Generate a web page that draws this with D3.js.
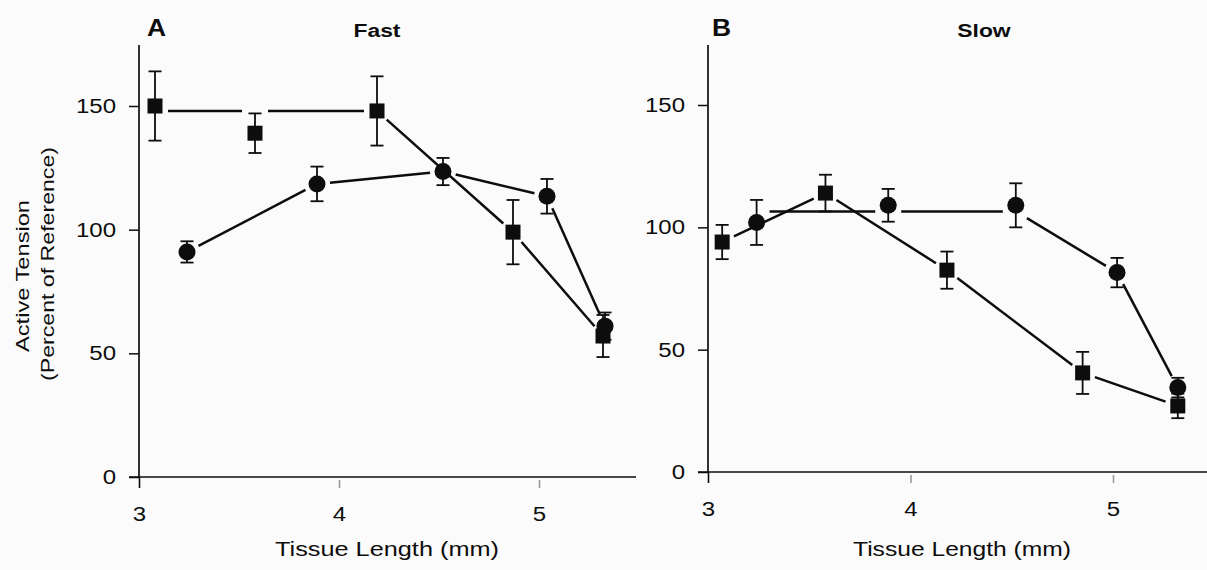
<!DOCTYPE html>
<html>
<head>
<meta charset="utf-8">
<script src="https://cdn.jsdelivr.net/npm/d3@7"></script>
<style>
  html, body { margin: 0; padding: 0; background: #fbfbfb; }
  svg { display: block; font-family: "Liberation Sans", Arial, sans-serif; }
</style>
</head>
<body>
<div id="chart"></div>
<script>
// data
const lengthTicks = [3, 4, 5];
const tensionTicks = [0, 50, 100, 150];

// A - fast
const fastSquareX = [3.08, 3.58, 4.19, 4.87, 5.32];
const fastSquareY = [150, 139, 148, 99, 57];
const fastSquareErr = [14, 8, 14, 13, 8.5];
const fastSquareLineY = [148, 148, 148, 99, 57];
const fastCircleX = [3.24, 3.89, 4.52, 5.04, 5.33];
const fastCircleY = [91, 118.5, 123.5, 113.5, 61];
const fastCircleErr = [4.3, 7, 5.5, 7, 5.5];
const fastCircleLineY = [91, 118.5, 123.5, 113.5, 61];

// B - slow
const slowSquareX = [3.07, 3.58, 4.18, 4.85, 5.32];
const slowSquareY = [94, 114, 82.5, 40.5, 27];
const slowSquareErr = [7, 7.5, 7.6, 8.6, 5];
const slowSquareLineY = [94, 114, 82.5, 40.5, 27];
const slowCircleX = [3.24, 3.89, 4.52, 5.02, 5.32];
const slowCircleY = [102, 109, 109, 81.5, 34.5];
const slowCircleErr = [9.2, 6.7, 9, 6, 4];
const slowCircleLineY = [106.5, 106.5, 106.5, 81.5, 34.5];

(function() {
  'use strict';

  const W = 1207, H = 570;
  const INK = '#0d0d0d';
  const FONT_K = 1.2;   // the scanned lettering is wider than Liberation Sans

  const panels = [
    {
      letter: 'A', title: 'Fast',
      x3: 139, x5: 539, y0: 477, y150: 106, axisTop: 45, axisRight: 636,
      letterX: 147, titleX: 377, xLabelX: 387, xLabelLen: 224,
      series: [
        { shape: 'square', x: fastSquareX, y: fastSquareY, err: fastSquareErr, lineY: fastSquareLineY },
        { shape: 'circle', x: fastCircleX, y: fastCircleY, err: fastCircleErr, lineY: fastCircleLineY }
      ]
    },
    {
      letter: 'B', title: 'Slow',
      x3: 708, x5: 1113, y0: 472, y150: 105, axisTop: 45, axisRight: 1207,
      letterX: 712, titleX: 984, xLabelX: 962, xLabelLen: 218,
      series: [
        { shape: 'square', x: slowSquareX, y: slowSquareY, err: slowSquareErr, lineY: slowSquareLineY },
        { shape: 'circle', x: slowCircleX, y: slowCircleY, err: slowCircleErr, lineY: slowCircleLineY }
      ]
    }
  ];

  const svg = d3.select('#chart').append('svg')
    .attr('width', W).attr('height', H)
    .attr('viewBox', `0 0 ${W} ${H}`);

  svg.append('rect').attr('width', W).attr('height', H).attr('fill', '#fbfbfb');

  function stretch(sel, k) {
    sel.each(function() {
      const w = this.getComputedTextLength();
      d3.select(this).attr('textLength', w * k).attr('lengthAdjust', 'spacingAndGlyphs');
    });
  }

  // shorten a segment at both ends so the line stops short of the markers
  function trim(p, q, gap) {
    const dx = q[0] - p[0], dy = q[1] - p[1];
    const len = Math.hypot(dx, dy);
    if (len <= gap * 2) return null;
    const ux = dx / len, uy = dy / len;
    return [p[0] + ux * gap, p[1] + uy * gap, q[0] - ux * gap, q[1] - uy * gap];
  }

  panels.forEach(p => {
    const x = d3.scaleLinear().domain([3, 5]).range([p.x3, p.x5]);
    const y = d3.scaleLinear().domain([0, 150]).range([p.y0, p.y150]);
    const g = svg.append('g');

    // y axis (ticks + labels from d3, spine drawn by hand so it can run past 150)
    const yAxis = g.append('g')
      .attr('transform', `translate(${x(3)},0)`)
      .call(d3.axisLeft(y).tickValues(tensionTicks).tickFormat(d3.format('d'))
        .tickSize(10).tickPadding(13).tickSizeOuter(0));
    yAxis.select('.domain').remove();
    yAxis.selectAll('line').attr('stroke', INK).attr('stroke-width', 1.5);
    yAxis.selectAll('text')
      .attr('fill', INK).attr('font-size', 20).attr('font-family', '"Liberation Sans", Arial, sans-serif')
      .call(stretch, FONT_K);

    const xAxis = g.append('g')
      .attr('transform', `translate(0,${y(0)})`)
      .call(d3.axisBottom(x).tickValues(lengthTicks).tickFormat(d3.format('d'))
        .tickSize(11).tickPadding(19).tickSizeOuter(0));
    xAxis.select('.domain').remove();
    xAxis.selectAll('.tick line')
      .attr('stroke', d => d === 3 ? INK : '#9a9a9a')
      .attr('stroke-width', d => d === 3 ? 1.6 : 1.6)
      .attr('y1', d => d === 3 ? 0 : 3);
    xAxis.selectAll('text')
      .attr('fill', INK).attr('font-size', 20).attr('font-family', '"Liberation Sans", Arial, sans-serif')
      .call(stretch, FONT_K);

    // spines
    g.append('line')
      .attr('x1', x(3)).attr('x2', x(3))
      .attr('y1', p.axisTop).attr('y2', y(0))
      .attr('stroke', INK).attr('stroke-width', 1.7);
    g.append('line')
      .attr('x1', x(3) - 10).attr('x2', p.axisRight)
      .attr('y1', y(0)).attr('y2', y(0))
      .attr('stroke', INK).attr('stroke-width', 1.7);

    // panel letter and title
    g.append('text')
      .attr('x', p.letterX).attr('y', 36)
      .attr('font-size', 24).attr('font-weight', 'bold').attr('fill', INK)
      .text(p.letter)
      .call(stretch, 1.1);
    g.append('text')
      .attr('x', p.titleX).attr('y', 37)
      .attr('text-anchor', 'middle')
      .attr('font-size', 18).attr('font-weight', 'bold').attr('fill', INK)
      .text(p.title)
      .call(stretch, 1.27);

    // x label
    g.append('text')
      .attr('x', p.xLabelX).attr('y', 556)
      .attr('text-anchor', 'middle')
      .attr('font-size', 20).attr('fill', INK)
      .attr('textLength', p.xLabelLen).attr('lengthAdjust', 'spacingAndGlyphs')
      .text('Tissue Length (mm)');

    // connecting lines
    p.series.forEach(s => {
      const pts = s.x.map((v, i) => [x(v), y(s.lineY[i])]);
      for (let i = 0; i < pts.length - 1; i++) {
        const seg = trim(pts[i], pts[i + 1], 13);
        if (!seg) continue;
        g.append('line')
          .attr('x1', seg[0]).attr('y1', seg[1])
          .attr('x2', seg[2]).attr('y2', seg[3])
          .attr('stroke', INK).attr('stroke-width', 2.5);
      }
    });

    // error bars
    p.series.forEach(s => {
      const eb = g.append('g').attr('stroke', INK).attr('stroke-width', 1.8);
      s.x.forEach((v, i) => {
        const cx = x(v);
        const top = y(s.y[i] + s.err[i]);
        const bot = y(s.y[i] - s.err[i]);
        eb.append('line').attr('x1', cx).attr('x2', cx).attr('y1', top).attr('y2', bot);
        eb.append('line').attr('x1', cx - 6.5).attr('x2', cx + 6.5).attr('y1', top).attr('y2', top);
        eb.append('line').attr('x1', cx - 6.5).attr('x2', cx + 6.5).attr('y1', bot).attr('y2', bot);
      });
    });

    // markers
    p.series.forEach(s => {
      s.x.forEach((v, i) => {
        if (s.shape === 'square') {
          g.append('rect')
            .attr('x', x(v) - 7.5).attr('y', y(s.y[i]) - 7.5)
            .attr('width', 15).attr('height', 15)
            .attr('fill', INK);
        } else {
          g.append('circle')
            .attr('cx', x(v)).attr('cy', y(s.y[i]))
            .attr('r', 8.5)
            .attr('fill', INK);
        }
      });
    });
  });

  // y label (panel A only)
  const yl = svg.append('g').attr('fill', INK).attr('font-size', 19);
  yl.append('text')
    .attr('transform', 'rotate(-90)')
    .attr('x', -276).attr('y', 29)
    .attr('text-anchor', 'middle')
    .attr('textLength', 152).attr('lengthAdjust', 'spacingAndGlyphs')
    .text('Active Tension');
  yl.append('text')
    .attr('transform', 'rotate(-90)')
    .attr('x', -264).attr('y', 54)
    .attr('text-anchor', 'middle')
    .attr('textLength', 234).attr('lengthAdjust', 'spacingAndGlyphs')
    .text('(Percent of Reference)');
})();
</script>
</body>
</html>
